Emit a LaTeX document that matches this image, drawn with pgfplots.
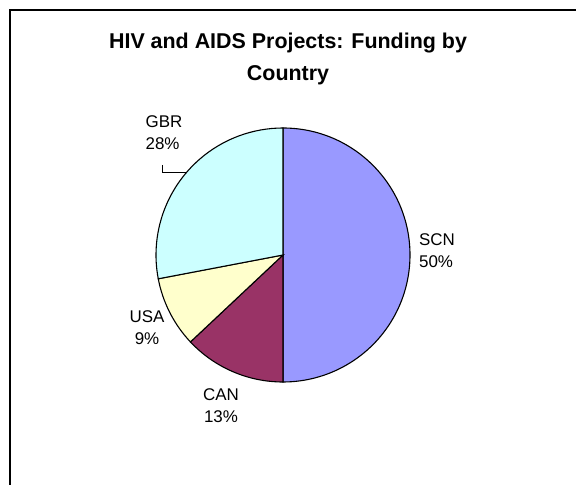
\documentclass[border=0pt]{standalone}
\usepackage{pgfplots}
\pgfplotsset{compat=1.18}
\usepackage{pgfplotstable}
\usepackage{fontspec}
\setmainfont{Liberation Sans}
\definecolor{cSCN}{HTML}{9999FF}
\definecolor{cCAN}{HTML}{993366}
\definecolor{cUSA}{HTML}{FFFFCC}
\definecolor{cGBR}{HTML}{CCFFFF}
\pgfplotstableread{
name value
SCN 50
CAN 13
USA 9
GBR 28
}\piedata
\begin{document}
\begin{tikzpicture}
\useasboundingbox (0,0) rectangle (576bp,485bp);
\pgfplotstablegetelem{0}{value}\of\piedata \let\vA\pgfplotsretval
\pgfplotstablegetelem{1}{value}\of\piedata \let\vB\pgfplotsretval
\pgfplotstablegetelem{2}{value}\of\piedata \let\vC\pgfplotsretval
\pgfplotstablegetelem{3}{value}\of\piedata \let\vD\pgfplotsretval
\pgfmathsetmacro\aA{90}
\pgfmathsetmacro\aB{\aA-3.6*\vA}
\pgfmathsetmacro\aC{\aB-3.6*\vB}
\pgfmathsetmacro\aD{\aC-3.6*\vC}
\pgfmathsetmacro\aE{\aD-3.6*\vD}
\begin{axis}[
  at={(0,0)}, anchor=south west,
  scale only axis, width=576bp, height=485bp,
  xmin=0, xmax=576, ymin=0, ymax=485,
  hide axis, clip=false]
\def\cx{283}\def\cy{230}\def\r{127bp}
\filldraw[fill=cSCN, draw=black, line width=1.1pt] (axis cs:\cx,\cy) -- ++(\aA:\r) arc[start angle=\aA, end angle=\aB, radius=\r] -- cycle;
\filldraw[fill=cCAN, draw=black, line width=1.1pt] (axis cs:\cx,\cy) -- ++(\aB:\r) arc[start angle=\aB, end angle=\aC, radius=\r] -- cycle;
\filldraw[fill=cUSA, draw=black, line width=1.1pt] (axis cs:\cx,\cy) -- ++(\aC:\r) arc[start angle=\aC, end angle=\aD, radius=\r] -- cycle;
\filldraw[fill=cGBR, draw=black, line width=1.1pt] (axis cs:\cx,\cy) -- ++(\aD:\r) arc[start angle=\aD, end angle=\aE, radius=\r] -- cycle;
% frame
\draw[line width=1.5pt] (axis cs:10,-10) -- (axis cs:10,475) -- (axis cs:600,475);
% title
\node[align=center, font=\fontsize{21.5}{33}\selectfont\bfseries] at (axis cs:288,426) {HIV and AIDS Projects: Funding by\\Country};
% labels
\node[align=left, font=\fontsize{17}{22}\selectfont] at (axis cs:164,352) {GBR\\28\%};
\node[align=left, font=\fontsize{17}{22}\selectfont] at (axis cs:437,234) {SCN\\50\%};
\node[align=center, font=\fontsize{17}{22}\selectfont] at (axis cs:147,157) {USA\\9\%};
\node[align=center, font=\fontsize{17}{22}\selectfont] at (axis cs:221,79) {CAN\\13\%};
\draw[line width=0.7pt] (axis cs:162,320) -- (axis cs:162,313) -- (axis cs:186,313);
\end{axis}
\end{tikzpicture}
\end{document}
